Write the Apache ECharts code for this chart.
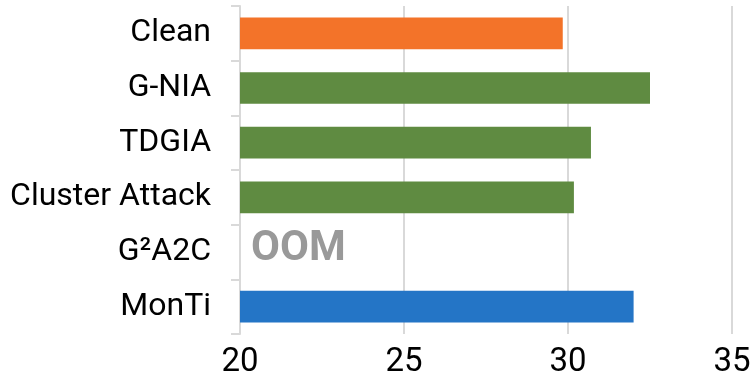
<!DOCTYPE html>
<html>
<head>
<meta charset="utf-8">
<script src="https://cdn.jsdelivr.net/npm/echarts@6/dist/echarts.min.js"></script>
<style>
html,body{margin:0;padding:0;background:#fff;}
#chart{width:753px;height:377px;}
</style>
</head>
<body>
<div id="chart"></div>
<script>
const categories = ['Clean', 'G-NIA', 'TDGIA', 'Cluster Attack', 'G\u00B2A2C', 'MonTi'];
const values = [29.84, 32.5, 30.7, 30.18, null, 32.0];
const barColors = ['#F37329', '#5F8B41', '#5F8B41', '#5F8B41', '#5F8B41', '#2475C6'];
const notes = ['', '', '', '', 'OOM', ''];
const xTicks = [20, 25, 30, 35];

const xMin = xTicks[0];
const xMax = xTicks[xTicks.length - 1];
const xStep = xTicks[1] - xTicks[0];

const barData = values.map((v, i) => ({ value: v, itemStyle: { color: barColors[i] } }));
const noteData = [];
notes.forEach((n, i) => { if (n) noteData.push({ value: [xMin, categories[i]], note: n }); });

const chart = echarts.init(document.getElementById('chart'), null, { renderer: 'canvas' });
chart.setOption({
  animation: false,
  backgroundColor: '#ffffff',
  grid: { left: 240, right: 21, top: 6, bottom: 43, containLabel: false, outerBoundsMode: 'none' },
  xAxis: {
    type: 'value',
    min: xMin, max: xMax, interval: xStep,
    axisLine: { show: false },
    axisTick: { show: false },
    splitLine: { show: true, lineStyle: { color: '#D9D9D9', width: 2 } },
    axisLabel: { color: '#000000', fontFamily: 'Roboto', fontSize: 33, margin: 12 }
  },
  yAxis: {
    type: 'category',
    data: categories,
    inverse: true,
    axisLine: { show: true, lineStyle: { color: '#D9D9D9', width: 2 } },
    axisTick: { show: true, length: 9, lineStyle: { color: '#D9D9D9', width: 2 } },
    splitLine: { show: false },
    axisLabel: { color: '#000000', fontFamily: 'Roboto', fontSize: 32, margin: 29 }
  },
  series: [
    {
      type: 'bar',
      data: barData,
      barWidth: '58%',
      silent: true
    },
    {
      type: 'scatter',
      data: noteData,
      symbolSize: 0,
      silent: true,
      label: {
        show: true,
        position: 'right',
        distance: 11,
        offset: [0, -3],
        formatter: p => p.data.note,
        color: '#7F7F7F',
        fontFamily: 'Roboto',
        fontWeight: 'bold',
        fontSize: 42
      }
    }
  ]
});
</script>
</body>
</html>
